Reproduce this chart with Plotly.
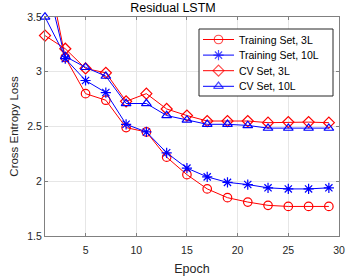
import plotly.graph_objects as go

epochs = [1, 3, 5, 7, 9, 11, 13, 15, 17, 19, 21, 23, 25, 27, 29]
train_3l = [4.05, 3.13, 2.80, 2.74, 2.49, 2.45, 2.22, 2.06, 1.93, 1.85, 1.81, 1.78, 1.77, 1.77, 1.77]
train_10l = [3.88, 3.12, 2.92, 2.81, 2.52, 2.45, 2.26, 2.12, 2.04, 1.99, 1.97, 1.94, 1.93, 1.93, 1.94]
cv_3l = [3.33, 3.21, 3.03, 2.99, 2.73, 2.80, 2.66, 2.60, 2.55, 2.55, 2.55, 2.535, 2.54, 2.54, 2.535]
cv_10l = [3.50, 3.14, 3.04, 2.96, 2.71, 2.71, 2.60, 2.56, 2.52, 2.52, 2.51, 2.485, 2.485, 2.485, 2.485]

x_ticks = [5, 10, 15, 20, 25, 30]
y_ticks = [1.5, 2, 2.5, 3, 3.5]

series_names = ["Training Set, 3L", "Training Set, 10L", "CV Set, 3L", "CV Set, 10L"]
series_values = [train_3l, train_10l, cv_3l, cv_10l]
series_colors = ["#FF0000", "#0000FF", "#FF0000", "#0000FF"]
series_symbols = ["circle-open", "asterisk-open", "diamond-open", "triangle-up-open"]
series_clip = [True, True, False, False]

FONT = "Liberation Sans, Arial"
W, H = 346, 278
ML, MR, MT, MB = 45, 7, 17, 42
MSIZE = 8.5

fig = go.Figure()
for name, vals, color, sym, clip in zip(series_names, series_values, series_colors, series_symbols, series_clip):
    fig.add_trace(go.Scatter(
        x=epochs, y=vals, name=name, mode="lines+markers", showlegend=False,
        cliponaxis=clip,
        line=dict(color=color, width=1),
        marker=dict(symbol=sym, size=MSIZE, color=color, line=dict(width=1.2, color=color)),
    ))

# custom legend drawn on a hidden overlay axis measured in pixels
LEG_BOX = (199, 333, 29, 96)
LEG_ROW0, LEG_DY = 39.5, 15.6
LEG_X0, LEG_X1, LEG_TX = 203, 234, 237

bx0, bx1, by0, by1 = LEG_BOX
fig.add_trace(go.Scatter(
    x=[bx0, bx1, bx1, bx0, bx0], y=[by0, by0, by1, by1, by0],
    xaxis="x2", yaxis="y2", mode="lines", fill="toself", fillcolor="white",
    line=dict(color="#262626", width=1), showlegend=False, hoverinfo="skip",
))
for i, (name, color, sym) in enumerate(zip(series_names, series_colors, series_symbols)):
    ry = LEG_ROW0 + i * LEG_DY
    fig.add_trace(go.Scatter(
        x=[LEG_X0, (LEG_X0 + LEG_X1) / 2, LEG_X1], y=[ry, ry, ry],
        xaxis="x2", yaxis="y2", mode="lines+markers", showlegend=False, hoverinfo="skip",
        line=dict(color=color, width=1),
        marker=dict(symbol=sym, size=[0, MSIZE, 0], color=color, line=dict(width=1.2, color=color)),
    ))
    fig.add_annotation(x=LEG_TX, y=ry, xref="x2", yref="y2", text=name, showarrow=False,
                       xanchor="left", yanchor="middle",
                       font=dict(family=FONT, size=10.5, color="#000000"))

axis_common = dict(
    showgrid=True, gridcolor="#E6E6E6", gridwidth=1,
    showline=True, linecolor="#808080", linewidth=1, mirror="ticks",
    ticks="inside", ticklen=3, tickcolor="#808080",
    tickfont=dict(family=FONT, size=10.5, color="#262626"),
    zeroline=False, automargin=False,
)

fig.update_layout(
    width=W, height=H,
    margin=dict(l=ML, r=MR, t=MT, b=MB),
    paper_bgcolor="white", plot_bgcolor="white",
    title=dict(text="Residual LSTM", x=0.5, xanchor="center", y=0.99, yanchor="top",
               font=dict(family=FONT, size=12.5, color="#000000")),
    xaxis=dict(range=[1, 30], tickvals=x_ticks, ticklabelstandoff=4,
               title=dict(text="Epoch", font=dict(family=FONT, size=12.5, color="#262626"), standoff=9),
               **axis_common),
    yaxis=dict(range=[1.5, 3.5], tickvals=y_ticks, ticktext=[str(t) for t in y_ticks],
               title=dict(text="Cross Entropy Loss", font=dict(family=FONT, size=11.5, color="#262626"), standoff=6),
               **axis_common),
    xaxis2=dict(overlaying="x", range=[ML, W - MR], visible=False, fixedrange=True),
    yaxis2=dict(overlaying="y", range=[H - MB, MT], visible=False, fixedrange=True),
    showlegend=False,
)

fig.write_html(
    "out.html",
    config={"displayModeBar": False, "responsive": False},
    post_script="document.body.style.margin='0';document.body.style.padding='0';document.body.style.overflow='hidden';document.documentElement.style.overflow='hidden';",
)
